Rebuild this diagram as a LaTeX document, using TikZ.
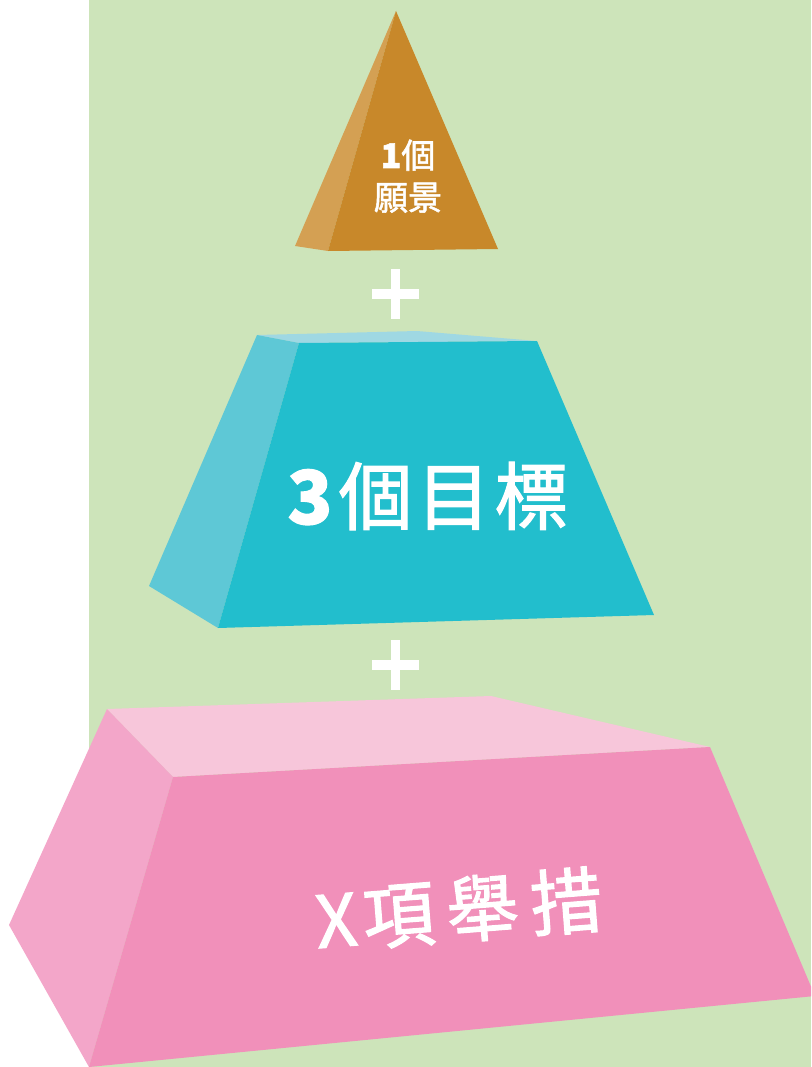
\documentclass[tikz,border=0pt]{standalone}
\usepackage{fontspec}
\newfontfamily\cjk[FakeBold=1.6]{Noto Sans CJK TC}
\definecolor{bggreen}{HTML}{CDE4BA}
\definecolor{brownmain}{HTML}{C8882A}
\definecolor{brownside}{HTML}{D4A053}
\definecolor{tealmain}{HTML}{22BECD}
\definecolor{tealside}{HTML}{5EC8D6}
\definecolor{tealtop}{HTML}{9FD8E3}
\definecolor{pinkmain}{HTML}{F190BA}
\definecolor{pinkside}{HTML}{F3A6C9}
\definecolor{pinktop}{HTML}{F7C6DA}
\tikzset{
  lbl/.style={text=white, inner sep=0pt, anchor=base, font=\cjk},
  plusbar/.style={fill=white, draw=none}
}
\begin{document}
\begin{tikzpicture}[x=1pt, y=-1pt]
\useasboundingbox (0,0) rectangle (811,1067);
\clip (0,0) rectangle (811,1067);
\fill[white] (0,0) rectangle (811,1067);
\fill[bggreen] (89,0) rectangle (811,1067);
% top pyramid
\fill[brownside] (396,11) -- (295,246) -- (328,251) -- cycle;
\fill[brownmain] (396,11) -- (328,251) -- (498,249) -- cycle;
\node[lbl, font=\cjk\fontsize{34}{34}\selectfont] (t1) at (408,168) {\textbf{1}個};
\node[lbl, font=\cjk\fontsize{34}{34}\selectfont] (t2) at (408,210) {願景};
% plus 1
\fill[plusbar] (372,289) rectangle (419,299);
\fill[plusbar] (391,269) rectangle (400,319);
% middle block
\fill[tealtop] (257,335) -- (417,331) -- (537,341) -- (299,343) -- cycle;
\fill[tealside] (257,335) -- (299,343) -- (218,628) -- (149,586) -- cycle;
\fill[tealmain] (299,343) -- (537,341) -- (654,615) -- (218,628) -- cycle;
\node[lbl, font=\cjk\fontsize{74}{74}\selectfont] (m) at (428,524) {\textbf{3}\kern6pt 個\kern4pt 目\kern4pt 標};
% plus 2
\fill[plusbar] (372,660) rectangle (419,670);
\fill[plusbar] (391,640) rectangle (400,690);
% bottom block
\fill[pinktop] (107,709) -- (491,696) -- (710,747) -- (173,777) -- cycle;
\fill[pinkside] (107,709) -- (173,777) -- (89,1067) -- (9,925) -- cycle;
\fill[pinkmain] (173,777) -- (710,747) -- (815,996) -- (89,1067) -- cycle;
\node[lbl, rotate=4.5, font=\cjk\fontsize{72}{72}\selectfont] (b) at (461,937) {X\kern6pt 項\kern12pt 舉\kern12pt 措};
\end{tikzpicture}
\end{document}
